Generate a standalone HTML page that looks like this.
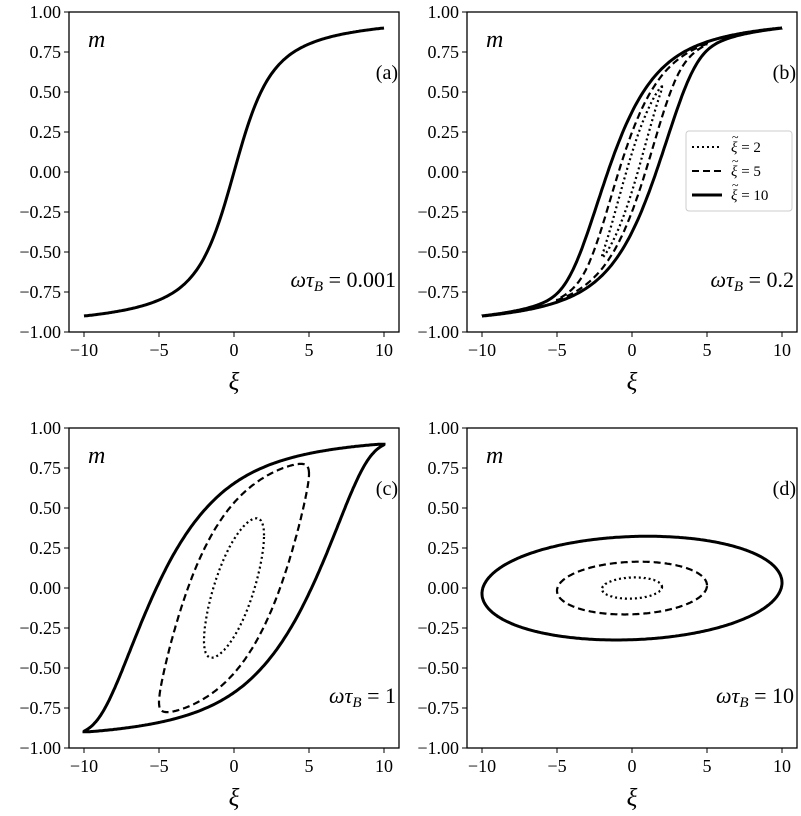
<!DOCTYPE html>
<html><head><meta charset="utf-8"><style>
body{margin:0;background:#fff}
svg{display:block;font-family:"Liberation Serif","DejaVu Serif",serif}
.t{font-size:18px}
</style></head><body>
<svg id="s" width="801" height="816" viewBox="0 0 801 816" xmlns="http://www.w3.org/2000/svg"></svg>
<script>
const S=document.getElementById('s');
let h='';
function L(x){if(Math.abs(x)<1e-4)return x/3;return 1/Math.tanh(x)-1/x;}
function Lp(x){if(Math.abs(x)<1e-3)return 1/3-x*x/15;const s=Math.sinh(x);return 1/(x*x)-1/(s*s);}
function F(x){if(Math.abs(x)<1e-3)return 1;return L(x)/(x*Lp(x));}
const panels=[
 {x0:69,y0:12,lab:'(a)',w:'0.001',wt:0.001},
 {x0:467,y0:12,lab:'(b)',w:'0.2',wt:0.2,leg:1},
 {x0:69,y0:428,lab:'(c)',w:'1',wt:1},
 {x0:467,y0:428,lab:'(d)',w:'10',wt:10}];
const W=330,H=320;
function loop(A,wt){
 const tau=wt,N=4000,dt=2*Math.PI/N;let xe=0,t=0;
 const f=(t,x)=>-(x-A*Math.cos(t))/tau*F(x);
 const pts=[];
 for(let p=0;p<6;p++){for(let i=0;i<N;i++){
  const k1=f(t,xe),k2=f(t+dt/2,xe+dt/2*k1),k3=f(t+dt/2,xe+dt/2*k2),k4=f(t+dt,xe+dt*k3);
  xe+=dt/6*(k1+2*k2+2*k3+k4);t+=dt;
  if(p==5&&i%8==0)pts.push([A*Math.cos(t),L(xe)]);}}
 pts.push(pts[0]);return pts;}
panels.forEach(P=>{
 const X=v=>P.x0+W/2+v*15,Y=v=>P.y0+H/2-v*160;
 const path=(pts)=>'M'+pts.map(p=>X(p[0]).toFixed(1)+','+Y(p[1]).toFixed(1)).join('L');
 if(P.wt<0.01){const pts=[];for(let x=-10;x<=10.001;x+=0.1)pts.push([x,L(x)]);
  h+=`<path d="${path(pts)}" fill="none" stroke="#000" stroke-width="3"/>`;}
 else{[[2,'2 3'],[5,'7 4'],[10,'']].forEach(([A,da])=>{
  h+=`<path d="${path(loop(A,P.wt))}" fill="none" stroke="#000" stroke-width="${A==10?3:2.2}" ${da?'stroke-dasharray="'+da+'"':''}/>`;});}
 h+=`<rect x="${P.x0}" y="${P.y0}" width="${W}" height="${H}" fill="none" stroke="#000" stroke-width="1.3"/>`;
 for(let v=-1;v<=1.001;v+=0.25){const y=Y(v);
  h+=`<line x1="${P.x0-5}" x2="${P.x0}" y1="${y}" y2="${y}" stroke="#000"/>`;
  const s=(v<-0.001?'\u2212':'')+Math.abs(v).toFixed(2);
  h+=`<text class="t" x="${P.x0-8}" y="${y+6}" text-anchor="end">${s}</text>`;}
 [-10,-5,0,5,10].forEach(v=>{const x=X(v);
  h+=`<line x1="${x}" x2="${x}" y1="${P.y0+H}" y2="${P.y0+H+5}" stroke="#000"/>`;
  h+=`<text class="t" x="${x}" y="${P.y0+H+24}" text-anchor="middle">${v<0?'\u2212'+(-v):v}</text>`;});
 h+=`<text x="${P.x0+W/2}" y="${P.y0+H+58}" font-size="25" font-style="italic" text-anchor="middle">ξ</text>`;
 h+=`<text x="${P.x0+19}" y="${P.y0+35}" font-size="24" font-style="italic">m</text>`;
 h+=`<text x="${P.x0+W-1}" y="${P.y0+67}" font-size="20" text-anchor="end">(${P.lab.slice(1,2)})</text>`;
 h+=`<text x="${P.x0+W-3}" y="${P.y0+275}" font-size="22" text-anchor="end"><tspan font-style="italic">ωτ</tspan><tspan font-style="italic" font-size="15" dy="4">B</tspan><tspan dy="-4"> = ${P.w}</tspan></text>`;
 if(P.leg){const lx=686,ly=131;
  h+=`<rect x="${lx}" y="${ly}" width="106" height="80" rx="3" fill="#fff" stroke="#ccc"/>`;
  [['2 3',2,'2'],['7 4',2,'5'],['',3,'10']].forEach(([da,sw,v],i)=>{const y=ly+16+i*24;
   h+=`<line x1="${lx+6}" x2="${lx+36}" y1="${y}" y2="${y}" stroke="#000" stroke-width="${sw}" ${da?'stroke-dasharray="'+da+'"':''}/>`;
   h+=`<text x="${lx+46}" y="${y-6}" font-size="12">~</text>`;
   h+=`<text x="${lx+45}" y="${y+5}" font-size="15"><tspan font-style="italic">ξ</tspan> = ${v}</text>`;});}
});
S.innerHTML=h;
</script>
</body></html>
